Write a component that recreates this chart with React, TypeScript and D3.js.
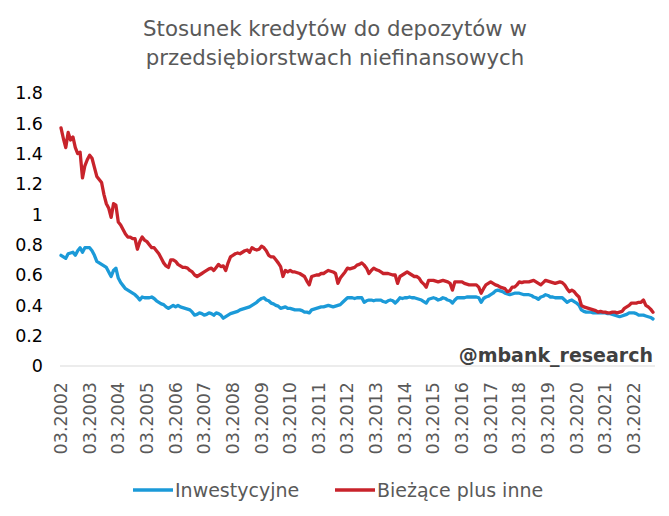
import React from "react";
import * as d3 from "d3";

const TITLE_LINES = ["Stosunek kredytów do depozytów w", "przedsiębiorstwach niefinansowych"];
const SERIES_NAMES = ["Inwestycyjne", "Bieżące plus inne"];
const Y_TICKS = [0, 0.2, 0.4, 0.6, 0.8, 1, 1.2, 1.4, 1.6, 1.8];
const X_TICK_LABELS = [
  "03.2002", "03.2003", "03.2004", "03.2005", "03.2006", "03.2007", "03.2008",
  "03.2009", "03.2010", "03.2011", "03.2012", "03.2013", "03.2014", "03.2015",
  "03.2016", "03.2017", "03.2018", "03.2019", "03.2020", "03.2021", "03.2022",
];

// monthly values, starting 03.2002
const INWESTYCYJNE = [
  0.73, 0.72, 0.71, 0.74, 0.745, 0.75, 0.73, 0.76, 0.78, 0.75, 0.78, 0.78,
  0.78, 0.76, 0.73, 0.69, 0.68, 0.67, 0.66, 0.65, 0.62, 0.59, 0.63, 0.645,
  0.58, 0.55, 0.53, 0.51, 0.5, 0.49, 0.48, 0.47, 0.455, 0.435, 0.455, 0.45,
  0.45, 0.45, 0.455, 0.445, 0.43, 0.42, 0.41, 0.405, 0.39, 0.38, 0.39, 0.4,
  0.39, 0.4, 0.39, 0.385, 0.38, 0.375, 0.37, 0.355, 0.335, 0.34, 0.35, 0.345,
  0.335, 0.34, 0.35, 0.345, 0.335, 0.35, 0.345, 0.335, 0.315, 0.325, 0.335, 0.345,
  0.35, 0.355, 0.36, 0.37, 0.375, 0.38, 0.385, 0.39, 0.4, 0.41, 0.42, 0.435,
  0.445, 0.45, 0.435, 0.43, 0.415, 0.41, 0.4, 0.395, 0.38, 0.385, 0.39, 0.38,
  0.38, 0.375, 0.37, 0.37, 0.37, 0.365, 0.355, 0.355, 0.35, 0.37, 0.375, 0.38,
  0.385, 0.39, 0.39, 0.395, 0.4, 0.395, 0.39, 0.395, 0.4, 0.405, 0.42, 0.435,
  0.45, 0.45, 0.45, 0.445, 0.45, 0.45, 0.45, 0.42, 0.43, 0.435, 0.435, 0.43,
  0.435, 0.435, 0.435, 0.425, 0.42, 0.43, 0.435, 0.43, 0.415, 0.43, 0.45, 0.445,
  0.45, 0.45, 0.455, 0.45, 0.45, 0.445, 0.44, 0.435, 0.425, 0.415, 0.44, 0.445,
  0.45, 0.445, 0.435, 0.44, 0.45, 0.445, 0.435, 0.43, 0.415, 0.435, 0.45, 0.45,
  0.45, 0.45, 0.455, 0.455, 0.455, 0.455, 0.455, 0.45, 0.42, 0.445, 0.455, 0.46,
  0.47, 0.48, 0.495, 0.5, 0.495, 0.49, 0.48, 0.475, 0.47, 0.475, 0.48, 0.48,
  0.48, 0.475, 0.47, 0.47, 0.47, 0.465, 0.455, 0.45, 0.44, 0.455, 0.46, 0.47,
  0.465, 0.455, 0.455, 0.45, 0.45, 0.45, 0.45, 0.435, 0.42, 0.43, 0.435, 0.425,
  0.415, 0.4, 0.37, 0.36, 0.355, 0.355, 0.355, 0.35, 0.35, 0.35, 0.35, 0.35,
  0.35, 0.345, 0.345, 0.34, 0.335, 0.33, 0.325, 0.33, 0.335, 0.34, 0.35, 0.35,
  0.35, 0.345, 0.335, 0.335, 0.335, 0.33, 0.325, 0.32, 0.31,
];

const BIEZACE = [
  1.57, 1.5, 1.44, 1.54, 1.49, 1.51, 1.44, 1.4, 1.41, 1.24, 1.32, 1.36,
  1.39, 1.37, 1.31, 1.25, 1.23, 1.21, 1.13, 1.07, 1.04, 0.98, 1.07, 1.06,
  0.95, 0.93, 0.9, 0.87, 0.85, 0.85, 0.84, 0.84, 0.77, 0.82, 0.85, 0.83,
  0.82, 0.8, 0.78, 0.78, 0.76, 0.74, 0.71, 0.68, 0.66, 0.65, 0.7, 0.7,
  0.69, 0.67, 0.66, 0.65, 0.65, 0.645, 0.63, 0.62, 0.6, 0.59, 0.6, 0.61,
  0.62, 0.63, 0.64, 0.645, 0.63, 0.65, 0.67, 0.655, 0.66, 0.63, 0.68, 0.72,
  0.73, 0.74, 0.745, 0.74, 0.75, 0.76, 0.765, 0.75, 0.78, 0.77, 0.765, 0.77,
  0.79, 0.78, 0.76, 0.73, 0.72, 0.72, 0.7, 0.68, 0.655, 0.59, 0.63, 0.62,
  0.63, 0.62, 0.62, 0.615, 0.61, 0.6, 0.59, 0.56, 0.535, 0.59, 0.595, 0.6,
  0.6, 0.61, 0.61, 0.62, 0.63, 0.625, 0.62, 0.61, 0.545, 0.58, 0.6, 0.62,
  0.645, 0.64, 0.645, 0.65, 0.665, 0.67, 0.68, 0.665, 0.645, 0.61, 0.63, 0.645,
  0.635, 0.63, 0.62, 0.61, 0.61, 0.61, 0.605, 0.6, 0.6, 0.545, 0.59, 0.6,
  0.61, 0.62, 0.61, 0.6, 0.59, 0.59, 0.58, 0.555, 0.54, 0.52, 0.565, 0.565,
  0.565, 0.56, 0.555, 0.56, 0.565, 0.56, 0.555, 0.545, 0.5, 0.555, 0.555, 0.555,
  0.555, 0.545, 0.54, 0.535, 0.535, 0.535, 0.535, 0.52, 0.48, 0.51, 0.535, 0.545,
  0.555, 0.545, 0.535, 0.53, 0.52, 0.515, 0.51, 0.49, 0.495, 0.52, 0.52, 0.535,
  0.555, 0.55, 0.555, 0.555, 0.555, 0.56, 0.565, 0.555, 0.545, 0.535, 0.55, 0.565,
  0.56, 0.555, 0.55, 0.545, 0.55, 0.555, 0.55, 0.535, 0.51, 0.49, 0.5, 0.49,
  0.47, 0.455, 0.4, 0.39, 0.385, 0.38, 0.375, 0.37, 0.365, 0.355, 0.36, 0.355,
  0.355, 0.35, 0.35, 0.355, 0.355, 0.35, 0.355, 0.36, 0.38, 0.39, 0.4, 0.415,
  0.415, 0.415, 0.42, 0.42, 0.435, 0.4, 0.39, 0.375, 0.355,
];

const COLORS = ["#1b9ad8", "#c8232b"];

export default function App() {
  const W = 669;
  const H = 516;
  const n = BIEZACE.length;
  const idx = d3.range(n);
  const x = d3.scalePoint<number>().domain(idx).range([61, 653]);
  const y = d3.scaleLinear().domain([0, 1.8]).range([366, 93]);
  const line = d3
    .line<number>()
    .x((_, i) => x(i) as number)
    .y((d) => y(d));
  const series = [INWESTYCYJNE, BIEZACE];
  const font = "'DejaVu Sans', Verdana, sans-serif";

  return (
    <svg
      width={W}
      height={H}
      style={{ position: "absolute", left: 0, top: 0, background: "#fff" }}
    >
      <rect width={W} height={H} fill="#fff" />
      {TITLE_LINES.map((t, i) => (
        <text
          key={i}
          x={335}
          y={36 + i * 29}
          textAnchor="middle"
          fontFamily={font}
          fontSize={21.3}
          fill="#595959"
        >
          {t}
        </text>
      ))}
      {Y_TICKS.map((v) => (
        <text
          key={v}
          x={43}
          y={y(v)}
          dy="0.36em"
          textAnchor="end"
          fontFamily={font}
          fontSize={17.5}
          fill="#000"
        >
          {String(v)}
        </text>
      ))}
      <line x1={60} x2={655} y1={y(0)} y2={y(0)} stroke="#d9d9d9" strokeWidth={1} />
      {X_TICK_LABELS.map((lab, k) => {
        const px = x(k * 12) as number;
        return (
          <text
            key={lab}
            transform={`translate(${px + 6},${382}) rotate(-90)`}
            textAnchor="end"
            fontFamily={font}
            fontSize={17.5}
            fill="#595959"
          >
            {lab}
          </text>
        );
      })}
      {series.map((s, i) => (
        <path
          key={i}
          d={line(s) || ""}
          fill="none"
          stroke={COLORS[i]}
          strokeWidth={3.3}
          strokeLinejoin="round"
          strokeLinecap="round"
        />
      ))}
      <text
        x={653}
        y={362}
        textAnchor="end"
        fontFamily={font}
        fontWeight="bold"
        fontSize={19}
        fill="#404040"
      >
        @mbank_research
      </text>
      {SERIES_NAMES.map((name, i) => {
        const lx = i === 0 ? 133 : 335;
        return (
          <g key={name}>
            <line x1={lx} x2={lx + 40} y1={490} y2={490} stroke={COLORS[i]} strokeWidth={3.5} />
            <text
              x={lx + 42}
              y={490}
              dy="0.36em"
              fontFamily={font}
              fontSize={19}
              fill="#595959"
            >
              {name}
            </text>
          </g>
        );
      })}
    </svg>
  );
}
